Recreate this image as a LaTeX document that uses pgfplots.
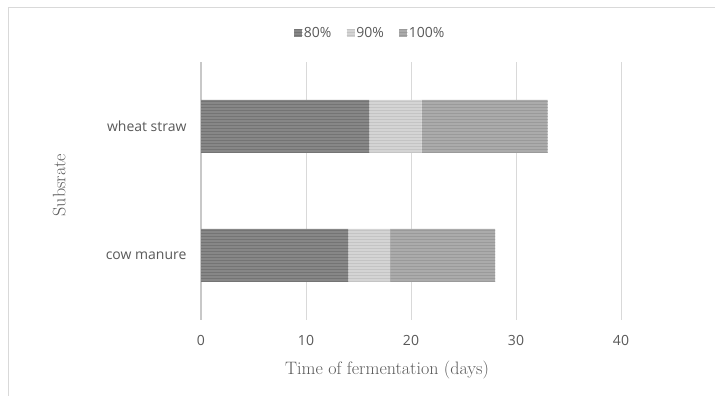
\documentclass[border=0pt]{standalone}
\usepackage{pgfplots}
\pgfplotsset{compat=1.18}
\usetikzlibrary{patterns}
\usepackage{fontspec}
\setsansfont{Open Sans}
\definecolor{gridgray}{HTML}{D9D9D9}
\definecolor{axgray}{HTML}{C8C8C8}
\definecolor{labelgray}{HTML}{595959}
\definecolor{cA}{HTML}{878787}
\definecolor{cB}{HTML}{D4D4D4}
\definecolor{cC}{HTML}{ABABAB}
\definecolor{pA}{HTML}{747474}
\definecolor{pB}{HTML}{C4C4C4}
\definecolor{pC}{HTML}{9A9A9A}
\begin{document}
\begin{tikzpicture}[x=1pt,y=1pt]
\useasboundingbox (0,0) rectangle (715,396);
\draw[gridgray, line width=0.8pt] (8,0) -- (8,389) -- (715,389);
\begin{axis}[
  at={(201pt,76pt)}, anchor=south west,
  scale only axis, width=462pt, height=258pt,
  xbar stacked, bar width=53pt,
  xmin=0, xmax=44, ymin=-0.5, ymax=1.5,
  xtick={0,10,20,30,40}, ytick={0,1},
  yticklabels={cow manure, wheat straw},
  xmajorgrids, grid style={color=gridgray, line width=0.8pt},
  axis x line*=bottom, axis y line*=left,
  x axis line style={draw=none},
  y axis line style={draw=axgray, line width=2.2pt, -},
  major tick length=0pt,
  /pgf/number format/assume math mode=true,
  tick label style={font=\sffamily\fontsize{14}{16}\selectfont, text=labelgray},
  xticklabel style={yshift=-12pt},
  yticklabel style={xshift=-11pt},
  xlabel={Time of fermentation (days)},
  ylabel={Subsrate},
  label style={font=\rmfamily\fontsize{18}{20}\selectfont, text=labelgray},
  xlabel style={at={(axis description cs:0.4026,-0.194)}, anchor=center},
  ylabel style={at={(axis description cs:-0.307,0.523)}, anchor=center, rotate=0},
  legend style={draw=none, fill=none, at={(axis description cs:0.366,1.112)}, anchor=center,
    legend columns=3, font=\sffamily\fontsize{14}{16}\selectfont, text=labelgray,
    /tikz/every even column/.append style={column sep=14pt},
    nodes={inner sep=1.5pt}},
  legend image code/.code={\fill[#1] (0pt,-4pt) rectangle (8pt,4pt);},
]
\addplot[fill=cA, draw=none, postaction={pattern=horizontal lines, pattern color=pA}] coordinates {(14,0) (16,1)};
\addplot[fill=cB, draw=none, postaction={pattern=horizontal lines, pattern color=pB}] coordinates {(4,0) (5,1)};
\addplot[fill=cC, draw=none, postaction={pattern=horizontal lines, pattern color=pC}] coordinates {(10,0) (12,1)};
\legend{80\%,90\%,100\%}
\end{axis}
\end{tikzpicture}
\end{document}
